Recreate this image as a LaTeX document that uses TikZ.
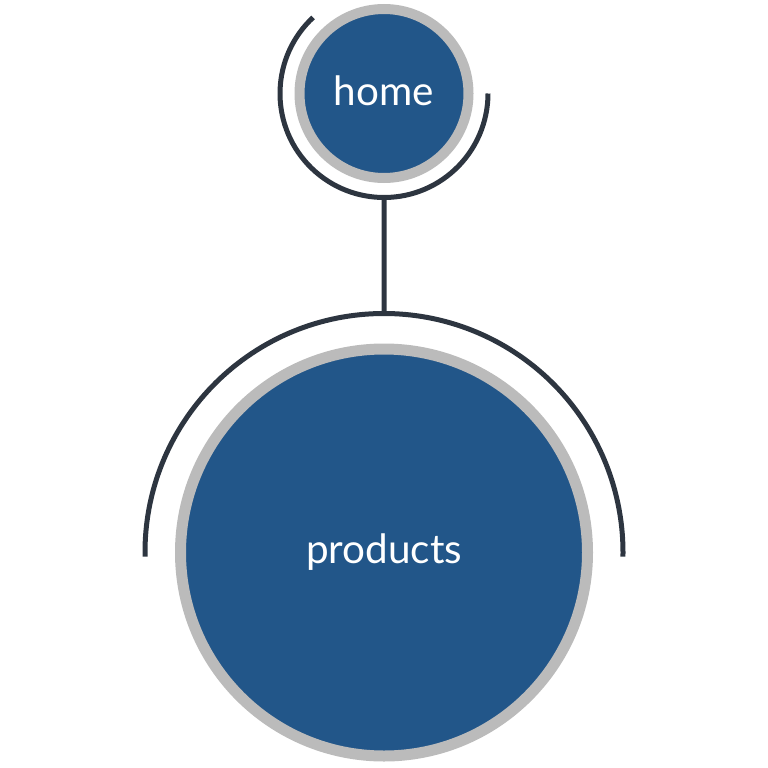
\documentclass[tikz,border=0pt]{standalone}
\usepackage{fontspec}
\setmainfont{Lato}
\usepackage{tikz}
\usetikzlibrary{positioning}
\definecolor{pageblue}{RGB}{34,86,137}
\definecolor{ringgray}{RGB}{187,187,187}
\definecolor{arcdark}{RGB}{45,53,64}

\begin{document}
\begin{tikzpicture}[thick,page node/.style={circle,fill=pageblue,draw=ringgray,text=white,inner sep=0pt},
orbit/.style={draw=arcdark,line width=0.05cm}]
\useasboundingbox (0,0) rectangle (7.68,-7.68);
\node[page node,line width=0.1cm,minimum size=1.69cm,font=\fontsize{11.5}{14}\selectfont] (home) at (3.84,-0.935) {\raisebox{1.5pt}{home}};
\node[page node,line width=0.11cm,minimum size=4.07cm,font=\fontsize{11.5}{14}\selectfont] (products) at (3.84,-5.525) {\raisebox{2pt}{products}};

\coordinate (home top) at ([yshift=-1.04cm]home.center);
\coordinate (products top) at ([yshift=2.39cm]products.center);

\path[orbit]
([shift={(133:1.04)}]home.center) arc (133:360:1.04)
([shift={(181:2.39)}]products.center) arc (181:-1:2.39)
(home top) -- (products top)
;
\end{tikzpicture}
\end{document}
